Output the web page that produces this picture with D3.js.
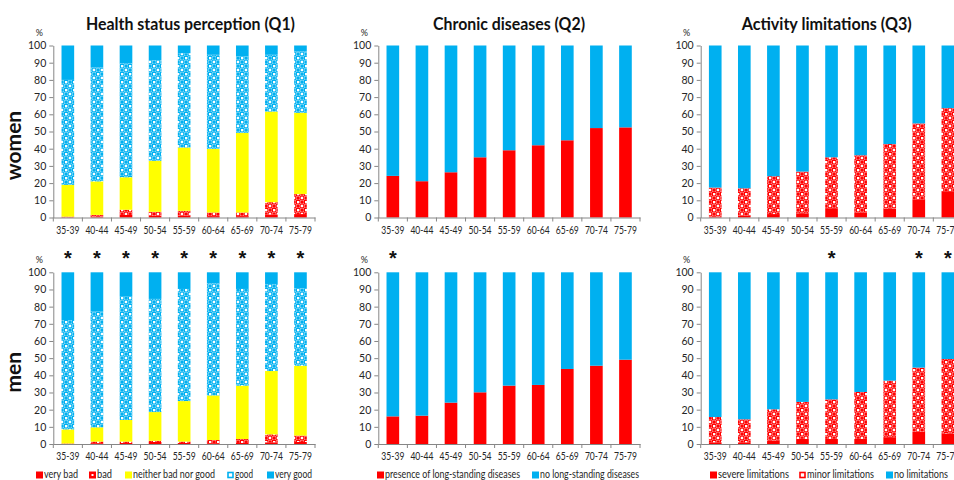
<!DOCTYPE html>
<html>
<head>
<meta charset="utf-8">
<script src="https://cdn.jsdelivr.net/npm/d3@7"></script>
<style>
  body { margin: 0; background: #fff; }
  svg { display: block; }
  .tick text, .small { font-family: Lato, "Noto Sans", sans-serif; }
  .heavy { font-family: Lato, "Open Sans", sans-serif; font-weight: 700; }
  .star { font-family: "Liberation Sans", Arial, sans-serif; font-weight: 700; }
</style>
</head>
<body>
<svg id="chart" width="954" height="480"></svg>
<script>
// ---- categories and ticks ----
const ageGroups = ["35-39", "40-44", "45-49", "50-54", "55-59", "60-64", "65-69", "70-74", "75-79"];
const yTicks = [0, 10, 20, 30, 40, 50, 60, 70, 80, 90, 100];

// ---- Q1: health status perception (%) ----
const q1WomenVeryBad  = [0.2, 0.5, 1.5, 1.0, 1.2, 0.8, 0.8, 1.8, 2.0];
const q1WomenBad      = [0.3, 1.0, 3.0, 2.3, 2.7, 2.1, 2.1, 7.1, 11.6];
const q1WomenNeither  = [18.5, 19.5, 18.9, 29.7, 36.8, 37.0, 46.3, 52.7, 47.3];
const q1WomenGood     = [61.0, 66.2, 66.3, 58.5, 54.8, 54.7, 44.4, 33.0, 35.6];
const q1WomenVeryGood = [20.0, 12.8, 10.3, 8.5, 4.5, 5.4, 6.4, 5.4, 3.5];

const q1MenVeryBad  = [0.1, 0.5, 0.6, 1.2, 0.6, 0.5, 0.6, 1.0, 1.2];
const q1MenBad      = [0.2, 0.9, 0.8, 0.7, 0.8, 1.8, 2.3, 4.6, 3.7];
const q1MenNeither  = [8.2, 8.3, 12.6, 16.7, 23.6, 26.0, 31.1, 36.9, 40.7];
const q1MenGood     = [63.7, 67.4, 71.8, 65.9, 65.3, 65.3, 56.3, 50.7, 45.1];
const q1MenVeryGood = [27.8, 22.9, 14.2, 15.5, 9.7, 6.4, 9.7, 6.8, 9.3];

// ---- Q2: long-standing (chronic) diseases (%) ----
const q2WomenPresence = [24.2, 21.1, 26.3, 35.0, 39.1, 42.0, 44.9, 52.0, 52.4];
const q2WomenNone     = [75.8, 78.9, 73.7, 65.0, 60.9, 58.0, 55.1, 48.0, 47.6];
const q2MenPresence   = [16.1, 16.5, 24.1, 30.1, 34.0, 34.4, 43.7, 45.6, 49.1];
const q2MenNone       = [83.9, 83.5, 75.9, 69.9, 66.0, 65.6, 56.3, 54.4, 50.9];

// ---- Q3: activity limitations (%) ----
const q3WomenSevere = [0.5, 1.2, 2.0, 2.5, 5.4, 3.0, 5.2, 10.6, 15.3];
const q3WomenMinor  = [16.9, 15.8, 22.0, 24.2, 29.6, 33.2, 37.5, 44.1, 48.3];
const q3WomenNone   = [82.6, 83.0, 76.0, 73.3, 65.0, 63.8, 57.3, 45.3, 36.4];
const q3MenSevere   = [1.0, 1.0, 2.0, 3.0, 3.0, 3.0, 4.0, 7.2, 6.2];
const q3MenMinor    = [14.7, 13.4, 18.2, 21.5, 23.0, 27.3, 32.9, 37.3, 43.3];
const q3MenNone     = [84.3, 85.6, 79.8, 75.5, 74.0, 69.7, 63.1, 55.5, 50.5];

// ---- significant differences (men vs women) ----
const q1MenStars = ["35-39", "40-44", "45-49", "50-54", "55-59", "60-64", "65-69", "70-74", "75-79"];
const q2MenStars = ["35-39"];
const q3MenStars = ["55-59", "70-74", "75-79"];

// ---- legend labels ----
const q1Labels = ["very bad", "bad", "neither bad nor good", "good", "very good"];
const q2Labels = ["presence of long-standing diseases", "no long-standing diseases"];
const q3Labels = ["severe limitations", "minor limitations", "no limitations"];

const rowLabels = ["women", "men"];

// ---- styling ----
const RED = "#FF0000", BLUE = "#00B0F0", YELLOW = "#FFFF00", AXIS = "#868686", INK = "#262626";

const svg = d3.select("#chart");
const defs = svg.append("defs");

// Dotted fill used for the "bad", "good" and "minor limitations" layers:
// white squares on a checker, with light rings between them
function dotPattern(id, base) {
  const s = 8;
  const p = defs.append("pattern").attr("id", id)
    .attr("patternUnits", "userSpaceOnUse").attr("width", s).attr("height", s);
  p.append("rect").attr("width", s).attr("height", s).attr("fill", base);
  [[1, 1], [5, 5]].forEach(([a, b]) =>
    p.append("rect").attr("x", a).attr("y", b).attr("width", 2.2).attr("height", 2.2).attr("fill", "#fff"));
  [[6.1, 2.1], [2.1, 6.1]].forEach(([a, b]) =>
    p.append("circle").attr("cx", a).attr("cy", b).attr("r", 2.1)
      .attr("fill", "none").attr("stroke", "#fff").attr("stroke-opacity", 0.65).attr("stroke-width", 0.8));
}
dotPattern("redDots", RED);
dotPattern("blueDots", BLUE);

function table(keys, arrays) {
  return ageGroups.map((age, i) => {
    const row = { age };
    keys.forEach((k, j) => { row[k] = arrays[j][i]; });
    return row;
  });
}

const q1Keys = ["veryBad", "bad", "neither", "good", "veryGood"];
const q2Keys = ["presence", "none"];
const q3Keys = ["severe", "minor", "none"];

const questions = [
  {
    title: "Health status perception (Q1)", titleX: 190.5, titleW: 209,
    keys: q1Keys, fills: [RED, "url(#redDots)", YELLOW, "url(#blueDots)", BLUE],
    rows: [
      table(q1Keys, [q1WomenVeryBad, q1WomenBad, q1WomenNeither, q1WomenGood, q1WomenVeryGood]),
      table(q1Keys, [q1MenVeryBad, q1MenBad, q1MenNeither, q1MenGood, q1MenVeryGood])
    ],
    stars: [[], q1MenStars],
    legend: {
      labels: q1Labels, swatches: ["solid", "dot", "solid", "ring", "solid"],
      colors: [RED, RED, YELLOW, BLUE, BLUE],
      x: [36, 89, 125, 227, 267], w: [34, 15, 82, 18, 37]
    }
  },
  {
    title: "Chronic diseases (Q2)", titleX: 509, titleW: 152,
    keys: q2Keys, fills: [RED, BLUE],
    rows: [
      table(q2Keys, [q2WomenPresence, q2WomenNone]),
      table(q2Keys, [q2MenPresence, q2MenNone])
    ],
    stars: [[], q2MenStars],
    legend: {
      labels: q2Labels, swatches: ["solid", "solid"], colors: [RED, BLUE],
      x: [377, 532], w: [135, 99]
    }
  },
  {
    title: "Activity limitations (Q3)", titleX: 826.7, titleW: 170,
    keys: q3Keys, fills: [RED, "url(#redDots)", BLUE],
    rows: [
      table(q3Keys, [q3WomenSevere, q3WomenMinor, q3WomenNone]),
      table(q3Keys, [q3MenSevere, q3MenMinor, q3MenNone])
    ],
    stars: [[], q3MenStars],
    legend: {
      labels: q3Labels, swatches: ["solid", "ring", "solid"], colors: [RED, RED, BLUE],
      x: [710, 799, 886], w: [71, 67, 54]
    }
  }
];

// ---- layout ----
const panelX = [53.3, 378.3, 700.7];
const panelW = 261.7;
const rowY = [{ top: 45.5, bottom: 217.5 }, { top: 272.3, bottom: 444 }];

function fitWidth(sel, w) {
  sel.attr("textLength", w).attr("lengthAdjust", "spacingAndGlyphs");
}

function drawPanel(q, qi, ri) {
  const x0 = panelX[qi];
  const { top, bottom } = rowY[ri];
  const x = d3.scaleBand().domain(ageGroups).range([x0, x0 + panelW])
    .paddingInner(0.565).paddingOuter(0.2825);
  const y = d3.scaleLinear().domain([0, 100]).range([bottom, top]);
  const g = svg.append("g");

  const series = d3.stack().keys(q.keys)(q.rows[ri]);
  g.selectAll("g.layer").data(series).join("g").attr("class", "layer")
    .attr("fill", (d, i) => q.fills[i])
    .selectAll("rect").data(d => d).join("rect")
    .attr("x", d => x(d.data.age))
    .attr("width", x.bandwidth())
    .attr("y", d => y(d[1]))
    .attr("height", d => Math.max(0, y(d[0]) - y(d[1])));

  // value axis
  const ya = g.append("g").attr("transform", `translate(${x0},0)`)
    .call(d3.axisLeft(y).tickValues(yTicks).tickSize(4).tickSizeOuter(0).tickPadding(3));
  ya.selectAll("path, line").attr("stroke", AXIS);
  ya.selectAll("text").attr("fill", INK).style("font-size", "10.5px");

  // category axis, with ticks between categories
  const xa = g.append("g").attr("transform", `translate(0,${bottom})`)
    .call(d3.axisBottom(x).tickSize(0).tickSizeOuter(0).tickPadding(9));
  xa.select(".domain").attr("stroke", AXIS);
  xa.selectAll("text").attr("fill", INK).style("font-size", "10.5px").call(fitWidth, 23);
  g.selectAll("line.sep").data(d3.range(ageGroups.length + 1)).join("line")
    .attr("class", "sep")
    .attr("x1", i => x0 + i * x.step()).attr("x2", i => x0 + i * x.step())
    .attr("y1", bottom).attr("y2", bottom + 4)
    .attr("stroke", AXIS);

  g.append("text").attr("class", "small")
    .attr("x", x0 - 14).attr("y", top - 9.5)
    .attr("text-anchor", "middle").attr("fill", INK).style("font-size", "9px")
    .text("%");

  g.selectAll("text.star").data(q.stars[ri]).join("text")
    .attr("class", "star")
    .attr("x", d => x(d) + x.bandwidth() / 2)
    .attr("y", top - 7.5)
    .attr("text-anchor", "middle").attr("fill", "#111").style("font-size", "20px")
    .text("*");
}

questions.forEach((q, qi) => {
  rowY.forEach((_, ri) => drawPanel(q, qi, ri));

  svg.append("text").attr("class", "heavy")
    .attr("x", q.titleX).attr("y", 30)
    .attr("text-anchor", "middle").attr("fill", "#111").style("font-size", "16.5px")
    .text(q.title)
    .call(fitWidth, q.titleW);

  // legend
  const L = q.legend;
  const lg = svg.append("g").selectAll("g").data(L.labels).join("g")
    .attr("transform", (d, i) => `translate(${L.x[i]},471.5)`);
  lg.each(function (d, i) {
    const item = d3.select(this);
    const kind = L.swatches[i], col = L.colors[i];
    if (kind === "ring") {
      item.append("rect").attr("x", 1).attr("y", 1).attr("width", 5).attr("height", 5)
        .attr("fill", "#fff").attr("stroke", col).attr("stroke-width", 1.6);
    } else {
      item.append("rect").attr("width", 7).attr("height", 7).attr("fill", col);
      if (kind === "dot") {
        item.append("rect").attr("x", 2.5).attr("y", 2.5).attr("width", 2).attr("height", 2).attr("fill", "#fff");
      }
    }
    item.append("text").attr("class", "small")
      .attr("x", 8).attr("y", 6.8)
      .attr("fill", INK).style("font-size", "10.5px")
      .text(d)
      .call(fitWidth, L.w[i]);
  });
});

// row labels
svg.selectAll("text.rowlabel").data(rowLabels).join("text")
  .attr("class", "rowlabel heavy")
  .attr("transform", (d, i) => `translate(21,${(rowY[i].top + rowY[i].bottom) / 2 + 14}) rotate(-90)`)
  .attr("text-anchor", "middle").attr("fill", "#111").style("font-size", "21px")
  .text(d => d);
</script>
</body>
</html>
